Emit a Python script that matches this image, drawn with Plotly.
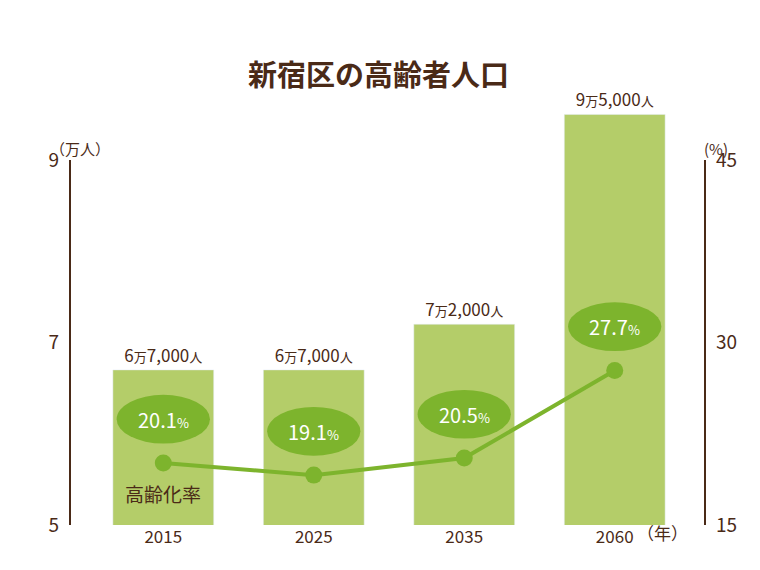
import plotly.graph_objects as go

years = ["2015", "2025", "2035", "2060"]
pop = [6.7, 6.7, 7.2, 9.5]
pop_labels = ["6<span style='font-size:13px'>万</span>7,000<span style='font-size:13px'>人</span>",
              "6<span style='font-size:13px'>万</span>7,000<span style='font-size:13px'>人</span>",
              "7<span style='font-size:13px'>万</span>2,000<span style='font-size:13px'>人</span>",
              "9<span style='font-size:13px'>万</span>5,000<span style='font-size:13px'>人</span>"]
rate = [20.1, 19.1, 20.5, 27.7]

BROWN = "#4a2a17"
BAR = "#b4cd69"
GREEN = "#7db42d"
F = "Noto Sans CJK JP"
xs = list(range(len(years)))

L, T, R, B = 62, 95, 63, 53
PW, PH = 760 - L - R, 570 - T - B
ytop = 5 + 4 * PH / 365
y2top = 15 + 30 * PH / 365

fig = go.Figure()
fig.add_bar(x=xs, y=pop, width=0.67, marker_color=BAR, text=pop_labels,
            textposition="outside", cliponaxis=False,
            textfont=dict(color=BROWN, size=17, family=F), base=0)
fig.add_scatter(x=xs, y=rate, yaxis="y2", mode="lines+markers",
                line=dict(color=GREEN, width=4), marker=dict(color=GREEN, size=17))

shapes = [
    dict(type="line", xref="paper", yref="y", x0=0, x1=0, y0=5, y1=9,
         line=dict(color=BROWN, width=2)),
    dict(type="line", xref="paper", yref="y2", x0=1, x1=1, y0=15, y1=45,
         line=dict(color=BROWN, width=2)),
]
annots = []
for x, r in zip(xs, rate):
    cy = r + 3.6
    shapes.append(dict(type="circle", xref="x", yref="y2", x0=x - 0.31, x1=x + 0.31,
                       y0=cy - 2.0, y1=cy + 2.0, fillcolor=GREEN, line_width=0, layer="above"))
    annots.append(dict(x=x, y=cy, xref="x", yref="y2", showarrow=False,
                       text=f"{r}<span style='font-size:13px'>%</span>",
                       font=dict(color="white", size=20, family=F)))

annots.append(dict(x=0, y=5.35, xref="x", yref="y", text="高齢化率", showarrow=False,
                   font=dict(color=BROWN, size=19, family=F)))

def pix(x, y, t, size=15):
    annots.append(dict(x=(x - L) / PW, y=(570 - B - y) / PH, xref="paper", yref="paper",
                       text=t, showarrow=False, font=dict(color=BROWN, size=size, family=F)))
pix(40, 128, "（万人）", 15)
pix(722, 128, "(%)", 15)
pix(682, 539, "（年）", 17)
pix(370, 42, "<b>新宿区の高齢者人口</b>", 29)

fig.update_layout(
    width=760, height=570, paper_bgcolor="white", plot_bgcolor="white",
    margin=dict(l=L, r=R, t=T, b=B), showlegend=False,
    shapes=shapes, annotations=annots,
    xaxis=dict(tickvals=xs, ticktext=years, range=[-0.62, 3.6], showline=False,
               showgrid=False, zeroline=False, tickfont=dict(color=BROWN, size=17, family=F),
               ticks=""),
    yaxis=dict(range=[5, ytop], tickvals=[5, 7, 9], showgrid=False, zeroline=False,
               showline=False, ticks="", ticklabelstandoff=10,
               tickfont=dict(color=BROWN, size=19, family=F)),
    yaxis2=dict(range=[15, y2top], tickvals=[15, 30, 45], overlaying="y", side="right",
                showgrid=False, zeroline=False, showline=False, ticks="", ticklabelstandoff=10,
                tickfont=dict(color=BROWN, size=19, family=F)),
)
fig.write_html("out.html")
